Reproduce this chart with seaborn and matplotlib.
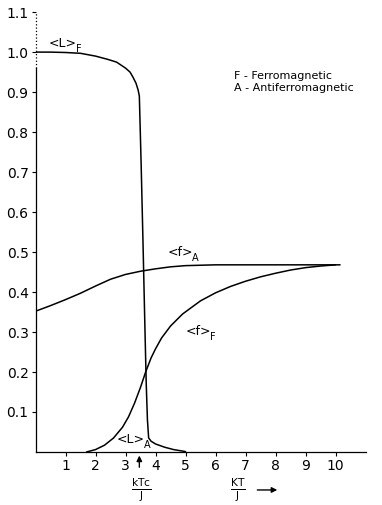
import matplotlib
matplotlib.use("Agg")
import matplotlib.pyplot as plt
import seaborn as sns
import numpy as np

# values (kT/J on x)
lf_kt = [0, 0.5, 1.0, 1.5, 2.0, 2.4, 2.7, 3.0, 3.15, 3.25, 3.35, 3.42, 3.46,
         3.52, 3.58, 3.64, 3.69, 3.73, 3.77, 3.85, 4.0, 4.3, 4.6, 5.0]
lf_val = [1.0, 1.0, 0.999, 0.997, 0.99, 0.982, 0.975, 0.96, 0.95, 0.937, 0.922, 0.905, 0.89,
          0.72, 0.53, 0.33, 0.17, 0.08, 0.035, 0.027, 0.02, 0.012, 0.006, 0.001]

ff_kt = [1.7, 2.0, 2.3, 2.6, 2.9, 3.1, 3.3, 3.5, 3.67, 3.85, 4.0, 4.2, 4.5, 4.9,
         5.5, 6.0, 6.5, 7.0, 7.5, 8.0, 8.5, 9.0, 9.5, 10.0]
ff_val = [0.0, 0.006, 0.017, 0.035, 0.062, 0.088, 0.122, 0.162, 0.2, 0.235, 0.258, 0.285,
          0.315, 0.345, 0.378, 0.398, 0.414, 0.427, 0.438, 0.447, 0.455, 0.461, 0.465, 0.468]

fa_kt = [0, 0.5, 1.0, 1.5, 2.0, 2.5, 3.0, 3.5, 4.0, 4.5, 5.0, 6.0, 7.0, 8.0, 9.0, 10.15]
fa_val = [0.352, 0.366, 0.381, 0.397, 0.415, 0.432, 0.444, 0.452, 0.458, 0.463, 0.466,
          0.468, 0.468, 0.468, 0.468, 0.468]

x_ticks = [1, 2, 3, 4, 5, 6, 7, 8, 9, 10]
y_ticks = [0.1, 0.2, 0.3, 0.4, 0.5, 0.6, 0.7, 0.8, 0.9, 1.0, 1.1]
kt_c = 3.46

sns.set_style("ticks")
plt.rcParams['font.family'] = ['DejaVu Sans']
plt.rcParams['text.color'] = 'black'

fig = plt.figure(figsize=(3.82, 5.05), dpi=100)
ax = fig.add_axes([0.093, 0.105, 0.864, 0.871])

for xs, ys in [(lf_kt, lf_val), (ff_kt, ff_val), (fa_kt, fa_val)]:
    sns.lineplot(x=xs, y=ys, ax=ax, color='black', lw=1.1, sort=False, estimator=None)

ax.set_xlim(0, 11)
ax.set_ylim(0, 1.1)
ax.set_xticks(x_ticks)
ax.set_xticklabels([str(t) for t in x_ticks])
ax.set_yticks(y_ticks)
ax.set_yticklabels([f"{t:.1f}" for t in y_ticks])
ax.tick_params(axis='both', labelsize=10, length=3, width=0.8, color='black',
               labelcolor='black', pad=2)

sns.despine(ax=ax)
ax.spines['left'].set_bounds(0, 0.96)
ax.spines['left'].set_linewidth(0.9)
ax.spines['bottom'].set_linewidth(0.9)
ax.spines['left'].set_color('black')
ax.spines['bottom'].set_color('black')
# dotted top part of the y axis
ax.plot([0, 0], [0.96, 1.1], color='black', lw=0.9, ls=':', clip_on=False)


def label(x, y, main, sub):
    t = ax.text(x, y, main, fontsize=9)
    ax.annotate(sub, xy=(1.0, 0.0), xycoords=t, xytext=(-0.5, -1.5),
                textcoords='offset points', fontsize=7, va='baseline')


# curve labels
label(0.45, 1.012, '<L>', 'F')
label(4.4, 0.49, '<f>', 'A')
label(5.0, 0.293, '<f>', 'F')
label(2.7, 0.022, '<L>', 'A')

ax.text(6.6, 0.94, 'F - Ferromagnetic', fontsize=8, va='center')
ax.text(6.6, 0.91, 'A - Antiferromagnetic', fontsize=8, va='center')

# critical temperature marker below the axis
ax.annotate('', xy=(kt_c, -0.002), xytext=(kt_c, -0.045),
            arrowprops=dict(arrowstyle='-|>', color='black', lw=1, mutation_scale=8),
            annotation_clip=False)
ax.text(kt_c + 0.05, -0.095, r'$\mathregular{\frac{kTc}{J}}$', fontsize=11,
        ha='center', va='center', clip_on=False)
ax.text(6.75, -0.095, r'$\mathregular{\frac{KT}{J}}$', fontsize=11,
        ha='center', va='center', clip_on=False)
ax.annotate('', xy=(8.15, -0.095), xytext=(7.3, -0.095),
            arrowprops=dict(arrowstyle='-|>', color='black', lw=1, mutation_scale=8),
            annotation_clip=False)

fig.savefig("out.png", dpi=100)
